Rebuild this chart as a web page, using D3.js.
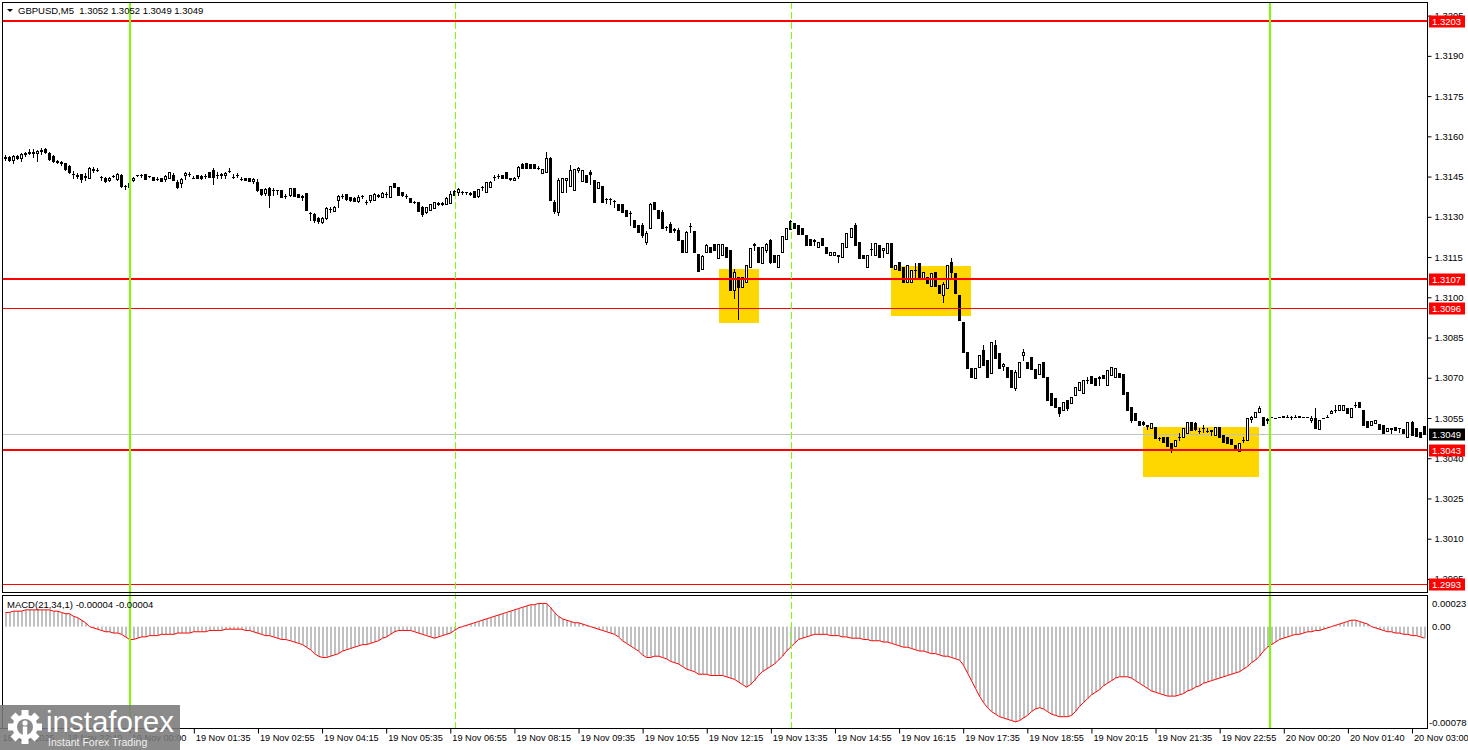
<!DOCTYPE html>
<html>
<head>
<meta charset="utf-8">
<title>GBPUSD M5</title>
<script src="https://cdn.jsdelivr.net/npm/d3@7"></script>
<style>
body { margin: 0; background: #fff; }
text { font-family: "Liberation Sans", Arial, sans-serif; }
</style>
</head>
<body>
<script>
// GBPUSD M5 candles, MACD(21,34,1) panel underneath

var opens = [
1.31519,1.31523,1.31512,1.31527,1.31519,1.31534,1.31538,1.31541,1.31538,1.31545,
1.31552,1.31538,1.31527,1.31508,1.31504,1.31500,1.31489,1.31459,1.31456,1.31459,
1.31448,1.31444,1.31474,1.31474,1.31448,1.31444,1.31437,1.31452,1.31441,1.31456,
1.31415,1.31411,1.31437,1.31456,1.31456,1.31459,1.31452,1.31448,1.31441,1.31444,
1.31441,1.31444,1.31456,1.31430,1.31426,1.31456,1.31459,1.31444,1.31456,1.31452,
1.31452,1.31467,1.31474,1.31456,1.31456,1.31456,1.31471,1.31448,1.31456,1.31441,
1.31444,1.31444,1.31433,1.31430,1.31403,1.31389,1.31407,1.31400,1.31400,1.31400,
1.31377,1.31381,1.31407,1.31385,1.31374,1.31389,1.31314,1.31310,1.31295,1.31280,
1.31295,1.31329,1.31321,1.31362,1.31377,1.31385,1.31374,1.31370,1.31359,1.31377,
1.31355,1.31362,1.31362,1.31377,1.31374,1.31385,1.31374,1.31426,1.31411,1.31392,
1.31377,1.31370,1.31355,1.31355,1.31336,1.31318,1.31325,1.31333,1.31351,1.31347,
1.31347,1.31351,1.31396,1.31392,1.31392,1.31392,1.31389,1.31396,1.31377,1.31411,
1.31392,1.31411,1.31448,1.31452,1.31456,1.31467,1.31441,1.31437,1.31452,1.31497,
1.31500,1.31497,1.31497,1.31482,1.31463,1.31467,1.31519,1.31355,1.31318,1.31392,
1.31437,1.31415,1.31400,1.31474,1.31433,1.31456,1.31467,1.31437,1.31407,1.31415,
1.31366,1.31366,1.31359,1.31347,1.31347,1.31325,1.31314,1.31288,1.31269,1.31269,
1.31206,1.31258,1.31355,1.31325,1.31318,1.31262,1.31273,1.31254,1.31250,1.31213,
1.31168,1.31265,1.31247,1.31161,1.31105,1.31168,1.31187,1.31198,1.31146,1.31157,
1.31187,1.31176,1.31027,1.31075,1.31038,1.31056,1.31112,1.31194,1.31187,1.31127,
1.31176,1.31213,1.31157,1.31112,1.31168,1.31217,1.31284,1.31277,1.31269,1.31258,
1.31232,1.31217,1.31209,1.31187,1.31221,1.31187,1.31157,1.31157,1.31153,1.31150,
1.31187,1.31224,1.31269,1.31206,1.31157,1.31112,1.31179,1.31157,1.31194,1.31176,
1.31165,1.31202,1.31105,1.31131,1.31112,1.31056,1.31056,1.31101,1.31127,1.31071,
1.31075,1.31042,1.31094,1.31045,1.31008,1.31034,1.31131,1.31090,1.31008,1.30907,
1.30795,1.30736,1.30698,1.30739,1.30803,1.30766,1.30717,1.30822,1.30792,1.30743,
1.30739,1.30728,1.30661,1.30702,1.30784,1.30758,1.30777,1.30732,1.30713,1.30758,
1.30702,1.30643,1.30624,1.30591,1.30579,1.30616,1.30606,1.30635,1.30654,1.30643,
1.30691,1.30706,1.30698,1.30698,1.30710,1.30672,1.30710,1.30702,1.30717,1.30713,
1.30646,1.30591,1.30568,1.30538,1.30535,1.30520,1.30512,1.30516,1.30475,1.30479,
1.30479,1.30456,1.30445,1.30479,1.30479,1.30494,1.30535,1.30531,1.30501,1.30512,
1.30501,1.30501,1.30486,1.30516,1.30486,1.30479,1.30471,1.30449,1.30426,1.30467,
1.30467,1.30546,1.30553,1.30572,1.30553,1.30542,1.30553,1.30550,1.30553,1.30553,
1.30553,1.30553,1.30553,1.30553,1.30553,1.30553,1.30542,1.30550,1.30509,1.30550,
1.30553,1.30568,1.30579,1.30579,1.30579,1.30587,1.30553,1.30598,1.30609,1.30579,
1.30538,1.30524,1.30531,1.30527,1.30524,1.30501,1.30509,1.30516,1.30512,1.30509,
1.30479,1.30535,1.30512,1.30497,1.30520
];

var highs = [
1.31530,1.31527,1.31530,1.31530,1.31538,1.31541,1.31552,1.31552,1.31549,1.31556,
1.31556,1.31541,1.31530,1.31512,1.31508,1.31500,1.31493,1.31471,1.31463,1.31459,
1.31463,1.31485,1.31485,1.31482,1.31452,1.31448,1.31448,1.31456,1.31463,1.31459,
1.31418,1.31430,1.31448,1.31456,1.31459,1.31459,1.31452,1.31448,1.31448,1.31444,
1.31456,1.31467,1.31463,1.31437,1.31444,1.31467,1.31467,1.31452,1.31456,1.31456,
1.31459,1.31467,1.31482,1.31467,1.31463,1.31467,1.31482,1.31459,1.31463,1.31448,
1.31444,1.31444,1.31444,1.31441,1.31403,1.31407,1.31411,1.31407,1.31400,1.31400,
1.31385,1.31407,1.31407,1.31385,1.31381,1.31389,1.31318,1.31314,1.31299,1.31299,
1.31336,1.31336,1.31340,1.31381,1.31385,1.31385,1.31374,1.31374,1.31381,1.31381,
1.31362,1.31381,1.31389,1.31385,1.31392,1.31392,1.31415,1.31426,1.31411,1.31392,
1.31385,1.31370,1.31359,1.31355,1.31340,1.31336,1.31347,1.31355,1.31355,1.31355,
1.31374,1.31396,1.31400,1.31407,1.31396,1.31392,1.31392,1.31396,1.31403,1.31415,
1.31430,1.31433,1.31456,1.31459,1.31456,1.31467,1.31444,1.31448,1.31489,1.31500,
1.31500,1.31497,1.31497,1.31489,1.31478,1.31541,1.31523,1.31362,1.31444,1.31444,
1.31444,1.31493,1.31478,1.31485,1.31474,1.31456,1.31474,1.31437,1.31430,1.31415,
1.31370,1.31370,1.31362,1.31347,1.31347,1.31325,1.31321,1.31288,1.31269,1.31277,
1.31247,1.31351,1.31355,1.31325,1.31325,1.31265,1.31280,1.31258,1.31258,1.31213,
1.31247,1.31277,1.31247,1.31161,1.31157,1.31198,1.31187,1.31198,1.31198,1.31198,
1.31187,1.31176,1.31105,1.31075,1.31075,1.31120,1.31183,1.31202,1.31187,1.31187,
1.31202,1.31217,1.31157,1.31157,1.31228,1.31258,1.31288,1.31277,1.31269,1.31258,
1.31232,1.31217,1.31217,1.31206,1.31221,1.31187,1.31168,1.31168,1.31157,1.31202,
1.31239,1.31258,1.31277,1.31206,1.31157,1.31157,1.31202,1.31202,1.31194,1.31183,
1.31202,1.31202,1.31120,1.31131,1.31112,1.31120,1.31101,1.31127,1.31127,1.31094,
1.31075,1.31090,1.31094,1.31045,1.31056,1.31120,1.31146,1.31090,1.31008,1.30907,
1.30795,1.30736,1.30736,1.30784,1.30822,1.30766,1.30833,1.30840,1.30792,1.30754,
1.30739,1.30728,1.30728,1.30758,1.30807,1.30758,1.30777,1.30732,1.30751,1.30758,
1.30702,1.30643,1.30624,1.30591,1.30609,1.30616,1.30628,1.30665,1.30684,1.30691,
1.30702,1.30706,1.30698,1.30706,1.30710,1.30728,1.30739,1.30736,1.30717,1.30713,
1.30646,1.30591,1.30568,1.30538,1.30538,1.30524,1.30531,1.30516,1.30479,1.30479,
1.30479,1.30456,1.30467,1.30494,1.30512,1.30535,1.30535,1.30535,1.30512,1.30524,
1.30512,1.30505,1.30516,1.30516,1.30486,1.30479,1.30471,1.30449,1.30456,1.30479,
1.30550,1.30557,1.30572,1.30594,1.30553,1.30550,1.30553,1.30550,1.30553,1.30557,
1.30561,1.30557,1.30561,1.30557,1.30553,1.30553,1.30557,1.30587,1.30542,1.30550,
1.30561,1.30579,1.30598,1.30598,1.30598,1.30587,1.30587,1.30609,1.30609,1.30579,
1.30538,1.30538,1.30542,1.30527,1.30524,1.30512,1.30512,1.30516,1.30512,1.30509,
1.30535,1.30538,1.30512,1.30497,1.30520
];

var lows = [
1.31512,1.31508,1.31500,1.31515,1.31508,1.31527,1.31534,1.31523,1.31508,1.31534,
1.31538,1.31512,1.31504,1.31500,1.31493,1.31474,1.31463,1.31444,1.31444,1.31430,
1.31437,1.31444,1.31467,1.31471,1.31437,1.31430,1.31433,1.31448,1.31437,1.31411,
1.31403,1.31411,1.31433,1.31452,1.31448,1.31441,1.31448,1.31437,1.31437,1.31433,
1.31433,1.31444,1.31437,1.31407,1.31411,1.31441,1.31452,1.31444,1.31444,1.31441,
1.31444,1.31448,1.31422,1.31444,1.31444,1.31444,1.31467,1.31444,1.31448,1.31437,
1.31437,1.31433,1.31426,1.31396,1.31381,1.31381,1.31336,1.31381,1.31385,1.31374,
1.31370,1.31377,1.31377,1.31374,1.31362,1.31325,1.31288,1.31280,1.31277,1.31277,
1.31291,1.31318,1.31321,1.31336,1.31370,1.31362,1.31359,1.31359,1.31355,1.31370,
1.31347,1.31355,1.31362,1.31374,1.31374,1.31374,1.31374,1.31411,1.31381,1.31377,
1.31370,1.31355,1.31351,1.31321,1.31303,1.31314,1.31325,1.31333,1.31344,1.31344,
1.31347,1.31351,1.31381,1.31381,1.31385,1.31385,1.31381,1.31374,1.31374,1.31400,
1.31392,1.31411,1.31437,1.31444,1.31444,1.31444,1.31437,1.31437,1.31444,1.31482,
1.31482,1.31482,1.31482,1.31478,1.31463,1.31467,1.31362,1.31314,1.31306,1.31392,
1.31392,1.31415,1.31400,1.31467,1.31433,1.31430,1.31422,1.31355,1.31407,1.31355,
1.31351,1.31347,1.31336,1.31325,1.31318,1.31303,1.31269,1.31262,1.31243,1.31224,
1.31198,1.31258,1.31329,1.31295,1.31258,1.31250,1.31243,1.31243,1.31213,1.31168,
1.31168,1.31243,1.31168,1.31097,1.31105,1.31168,1.31168,1.31176,1.31146,1.31157,
1.31150,1.31027,1.30997,1.30918,1.31038,1.31056,1.31112,1.31176,1.31131,1.31127,
1.31168,1.31127,1.31131,1.31112,1.31168,1.31217,1.31254,1.31258,1.31235,1.31235,
1.31194,1.31194,1.31194,1.31187,1.31194,1.31165,1.31157,1.31157,1.31131,1.31150,
1.31187,1.31224,1.31194,1.31146,1.31146,1.31112,1.31157,1.31157,1.31150,1.31150,
1.31165,1.31112,1.31105,1.31101,1.31056,1.31056,1.31056,1.31071,1.31075,1.31071,
1.31053,1.31042,1.31042,1.31015,1.30982,1.31034,1.31075,1.31015,1.30915,1.30795,
1.30736,1.30702,1.30698,1.30739,1.30747,1.30702,1.30717,1.30773,1.30736,1.30728,
1.30702,1.30665,1.30654,1.30702,1.30766,1.30736,1.30732,1.30698,1.30713,1.30702,
1.30616,1.30598,1.30591,1.30557,1.30579,1.30579,1.30606,1.30635,1.30654,1.30643,
1.30680,1.30680,1.30672,1.30672,1.30698,1.30672,1.30710,1.30702,1.30702,1.30639,
1.30579,1.30535,1.30542,1.30524,1.30524,1.30509,1.30512,1.30475,1.30467,1.30460,
1.30445,1.30423,1.30445,1.30467,1.30479,1.30494,1.30505,1.30505,1.30494,1.30497,
1.30497,1.30486,1.30486,1.30479,1.30460,1.30456,1.30452,1.30430,1.30426,1.30460,
1.30467,1.30535,1.30553,1.30572,1.30524,1.30531,1.30553,1.30550,1.30553,1.30553,
1.30553,1.30546,1.30553,1.30553,1.30553,1.30553,1.30535,1.30512,1.30509,1.30550,
1.30553,1.30568,1.30572,1.30579,1.30579,1.30568,1.30553,1.30591,1.30591,1.30524,
1.30516,1.30524,1.30531,1.30509,1.30494,1.30501,1.30494,1.30505,1.30497,1.30494,
1.30479,1.30486,1.30482,1.30479,1.30490
];

var closes = [
1.31523,1.31512,1.31527,1.31519,1.31534,1.31538,1.31541,1.31538,1.31545,1.31549,
1.31541,1.31515,1.31508,1.31504,1.31500,1.31478,1.31467,1.31459,1.31452,1.31441,
1.31452,1.31482,1.31478,1.31474,1.31448,1.31433,1.31444,1.31452,1.31459,1.31415,
1.31415,1.31426,1.31444,1.31456,1.31456,1.31441,1.31452,1.31437,1.31441,1.31433,
1.31452,1.31467,1.31437,1.31411,1.31441,1.31463,1.31459,1.31444,1.31444,1.31444,
1.31452,1.31448,1.31448,1.31456,1.31459,1.31463,1.31471,1.31448,1.31456,1.31441,
1.31437,1.31433,1.31441,1.31400,1.31385,1.31403,1.31381,1.31400,1.31400,1.31374,
1.31377,1.31407,1.31377,1.31374,1.31377,1.31325,1.31314,1.31288,1.31284,1.31295,
1.31333,1.31329,1.31336,1.31377,1.31377,1.31366,1.31362,1.31359,1.31374,1.31377,
1.31355,1.31381,1.31385,1.31381,1.31389,1.31385,1.31415,1.31411,1.31381,1.31381,
1.31377,1.31355,1.31355,1.31321,1.31310,1.31336,1.31347,1.31355,1.31347,1.31351,
1.31370,1.31385,1.31381,1.31403,1.31392,1.31392,1.31385,1.31374,1.31403,1.31411,
1.31430,1.31430,1.31448,1.31452,1.31444,1.31444,1.31444,1.31444,1.31485,1.31482,
1.31482,1.31482,1.31482,1.31482,1.31478,1.31519,1.31362,1.31321,1.31437,1.31444,
1.31444,1.31474,1.31478,1.31482,1.31474,1.31430,1.31459,1.31355,1.31430,1.31355,
1.31366,1.31366,1.31359,1.31325,1.31318,1.31303,1.31314,1.31262,1.31243,1.31232,
1.31239,1.31347,1.31329,1.31295,1.31258,1.31262,1.31243,1.31250,1.31213,1.31168,
1.31243,1.31265,1.31168,1.31097,1.31153,1.31194,1.31168,1.31176,1.31198,1.31198,
1.31150,1.31027,1.31094,1.31038,1.31075,1.31120,1.31183,1.31198,1.31131,1.31187,
1.31198,1.31131,1.31131,1.31157,1.31228,1.31258,1.31254,1.31258,1.31235,1.31235,
1.31194,1.31194,1.31213,1.31206,1.31194,1.31165,1.31168,1.31168,1.31157,1.31202,
1.31239,1.31258,1.31194,1.31146,1.31146,1.31157,1.31179,1.31202,1.31150,1.31183,
1.31202,1.31112,1.31120,1.31101,1.31056,1.31120,1.31101,1.31101,1.31075,1.31094,
1.31053,1.31090,1.31042,1.31015,1.31049,1.31120,1.31094,1.31015,1.30915,1.30795,
1.30736,1.30702,1.30736,1.30784,1.30747,1.30702,1.30833,1.30773,1.30736,1.30751,
1.30702,1.30665,1.30721,1.30758,1.30795,1.30736,1.30732,1.30698,1.30751,1.30702,
1.30616,1.30598,1.30591,1.30568,1.30609,1.30587,1.30628,1.30665,1.30684,1.30691,
1.30691,1.30680,1.30672,1.30702,1.30698,1.30728,1.30739,1.30736,1.30702,1.30639,
1.30579,1.30542,1.30542,1.30524,1.30527,1.30524,1.30531,1.30475,1.30475,1.30460,
1.30445,1.30430,1.30467,1.30479,1.30512,1.30535,1.30505,1.30509,1.30501,1.30512,
1.30501,1.30505,1.30516,1.30479,1.30460,1.30456,1.30452,1.30430,1.30456,1.30467,
1.30550,1.30553,1.30572,1.30587,1.30524,1.30546,1.30553,1.30550,1.30553,1.30557,
1.30553,1.30553,1.30553,1.30557,1.30553,1.30553,1.30550,1.30512,1.30542,1.30550,
1.30553,1.30576,1.30579,1.30598,1.30598,1.30568,1.30587,1.30598,1.30591,1.30524,
1.30516,1.30538,1.30542,1.30509,1.30494,1.30512,1.30512,1.30505,1.30512,1.30494,
1.30535,1.30486,1.30482,1.30479,1.30490
];

// MACD main value per bar (signal period 1, so the red line sits on it)
var macd = [
11e-5,11e-5,12e-5,12e-5,12e-5,13e-5,13e-5,13e-5,13e-5,13e-5,
13e-5,13e-5,12e-5,12e-5,11e-5,10e-5,10e-5,8e-5,7e-5,5e-5,
3e-5,0,-1e-5,-2e-5,-3e-5,-4e-5,-4e-5,-5e-5,-5e-5,-6e-5,
-8e-5,-10e-5,-10e-5,-9e-5,-8e-5,-8e-5,-7e-5,-7e-5,-7e-5,-6e-5,
-6e-5,-6e-5,-6e-5,-5e-5,-5e-5,-5e-5,-5e-5,-4e-5,-4e-5,-4e-5,
-4e-5,-3e-5,-3e-5,-3e-5,-3e-5,-2e-5,-2e-5,-2e-5,-2e-5,-2e-5,
-3e-5,-3e-5,-4e-5,-5e-5,-6e-5,-7e-5,-7e-5,-8e-5,-9e-5,-10e-5,
-10e-5,-11e-5,-12e-5,-13e-5,-14e-5,-16e-5,-18e-5,-21e-5,-23e-5,-24e-5,
-24e-5,-23e-5,-22e-5,-21e-5,-19e-5,-18e-5,-17e-5,-16e-5,-15e-5,-14e-5,
-14e-5,-13e-5,-12e-5,-11e-5,-9e-5,-8e-5,-6e-5,-4e-5,-3e-5,-3e-5,
-3e-5,-3e-5,-4e-5,-5e-5,-6e-5,-7e-5,-8e-5,-9e-5,-8e-5,-7e-5,
-6e-5,-5e-5,-3e-5,-1e-5,0,1e-5,2e-5,3e-5,4e-5,5e-5,
6e-5,7e-5,8e-5,9e-5,10e-5,11e-5,12e-5,13e-5,14e-5,15e-5,
16e-5,17e-5,17e-5,18e-5,18e-5,18e-5,15e-5,11e-5,8e-5,6e-5,
5e-5,4e-5,3e-5,3e-5,2e-5,1e-5,0,-1e-5,-2e-5,-3e-5,
-4e-5,-5e-5,-6e-5,-8e-5,-11e-5,-13e-5,-15e-5,-17e-5,-19e-5,-22e-5,
-24e-5,-24e-5,-23e-5,-23e-5,-24e-5,-25e-5,-27e-5,-28e-5,-29e-5,-31e-5,
-33e-5,-34e-5,-35e-5,-37e-5,-37e-5,-37e-5,-38e-5,-38e-5,-38e-5,-38e-5,
-39e-5,-40e-5,-41e-5,-43e-5,-45e-5,-47e-5,-45e-5,-42e-5,-38e-5,-35e-5,
-33e-5,-31e-5,-29e-5,-26e-5,-23e-5,-19e-5,-16e-5,-13e-5,-10e-5,-9e-5,
-8e-5,-7e-5,-6e-5,-6e-5,-6e-5,-6e-5,-7e-5,-7e-5,-7e-5,-8e-5,
-8e-5,-9e-5,-9e-5,-9e-5,-10e-5,-10e-5,-11e-5,-11e-5,-11e-5,-12e-5,
-12e-5,-13e-5,-14e-5,-15e-5,-16e-5,-16e-5,-17e-5,-18e-5,-19e-5,-19e-5,
-20e-5,-21e-5,-21e-5,-22e-5,-23e-5,-23e-5,-24e-5,-25e-5,-26e-5,-30e-5,
-36e-5,-42e-5,-48e-5,-54e-5,-59e-5,-63e-5,-66e-5,-68e-5,-70e-5,-71e-5,
-72e-5,-73e-5,-74e-5,-73e-5,-71e-5,-69e-5,-66e-5,-64e-5,-63e-5,-64e-5,
-66e-5,-68e-5,-69e-5,-70e-5,-70e-5,-70e-5,-69e-5,-66e-5,-62e-5,-59e-5,
-56e-5,-53e-5,-51e-5,-49e-5,-46e-5,-44e-5,-42e-5,-40e-5,-39e-5,-39e-5,
-39e-5,-40e-5,-42e-5,-44e-5,-46e-5,-48e-5,-50e-5,-51e-5,-52e-5,-53e-5,
-54e-5,-54e-5,-54e-5,-53e-5,-52e-5,-50e-5,-49e-5,-47e-5,-46e-5,-44e-5,
-43e-5,-42e-5,-41e-5,-40e-5,-39e-5,-38e-5,-37e-5,-36e-5,-35e-5,-33e-5,
-31e-5,-28e-5,-26e-5,-23e-5,-19e-5,-16e-5,-14e-5,-12e-5,-10e-5,-9e-5,
-8e-5,-7e-5,-6e-5,-6e-5,-5e-5,-4e-5,-4e-5,-3e-5,-3e-5,-2e-5,
-1e-5,0,1e-5,2e-5,3e-5,4e-5,5e-5,5e-5,4e-5,3e-5,
2e-5,0,-1e-5,-2e-5,-3e-5,-4e-5,-4e-5,-5e-5,-5e-5,-6e-5,
-6e-5,-7e-5,-7e-5,-8e-5,-9e-5
];

var priceTicks = [1.2995, 1.3010, 1.3025, 1.3040, 1.3055, 1.3070, 1.3085, 1.3100,
                  1.3115, 1.3130, 1.3145, 1.3160, 1.3175, 1.3190, 1.3205];
var levels = [1.3203, 1.3107, 1.3096, 1.3043, 1.2993];
var bid = 1.3049;

var timeBars = [0, 15, 31, 47, 63, 79, 95, 111, 127, 143, 159, 175, 191, 207, 223, 239, 255, 271, 287, 303, 319, 335, 351];
var timeLabels = ['18 Nov 2025', '18 Nov 22:40', '19 Nov 00:00', '19 Nov 01:35', '19 Nov 02:55', '19 Nov 04:15',
  '19 Nov 05:35', '19 Nov 06:55', '19 Nov 08:15', '19 Nov 09:35', '19 Nov 10:55', '19 Nov 12:15',
  '19 Nov 13:35', '19 Nov 14:55', '19 Nov 16:15', '19 Nov 17:35', '19 Nov 18:55', '19 Nov 20:15',
  '19 Nov 21:35', '19 Nov 22:55', '20 Nov 00:20', '20 Nov 01:40', '20 Nov 03:00'];

// yellow boxes: bar span and price span
var zoneFrom = [178.2, 221.1, 284.0];
var zoneTo = [188.2, 241.1, 312.9];
var zoneHigh = [1.31105, 1.31116, 1.30516];
var zoneLow = [1.30904, 1.30930, 1.30329];

var solidLines = [31.2, 315.7];
var dashedLines = [112.4, 196.2];

var macdTicks = [0.00023, 0, -0.00078];
var macdTickLabels = ['0.00023', '0.00', '-0.00078'];

var width = 1468, height = 750;
var left = 2, right = 1427, mainTop = 2, mainBottom = 592, subTop = 595, subBottom = 728;

var x = d3.scaleLinear().domain([0, 351]).range([5, 1411.5]);
var y = d3.scaleLinear().domain([1.2993, 1.3203]).range([584.3, 21]);
var ym = d3.scaleLinear().domain([-0.00078, 0.00023]).range([727, 597]);

function cx(i) { return Math.round(x(i)); }
function ry(v) { return Math.round(y(v)); }

var svg = d3.select('body').append('svg')
    .attr('width', width)
    .attr('height', height);

svg.append('rect').attr('width', width).attr('height', height).attr('fill', '#fff');

var bars = closes.map(function(c, i) {
    return {i: i, o: opens[i], h: highs[i], l: lows[i], c: c, m: macd[i]};
});

// ---- main panel ----
var main = svg.append('g');

main.selectAll('.zone')
    .data(zoneFrom)
    .enter().append('rect')
    .attr('class', 'zone')
    .attr('x', function(d) { return Math.round(x(d)); })
    .attr('width', function(d, k) { return Math.round(x(zoneTo[k])) - Math.round(x(d)); })
    .attr('y', function(d, k) { return ry(zoneHigh[k]); })
    .attr('height', function(d, k) { return ry(zoneLow[k]) - ry(zoneHigh[k]); })
    .attr('fill', '#FFD700');

main.append('line')
    .attr('x1', left).attr('x2', right)
    .attr('y1', ry(bid) + 0.5).attr('y2', ry(bid) + 0.5)
    .attr('stroke', '#C0C0C0');

var candles = main.append('g');

candles.selectAll('.wick')
    .data(bars)
    .enter().append('line')
    .attr('x1', function(d) { return cx(d.i) + 0.5; })
    .attr('x2', function(d) { return cx(d.i) + 0.5; })
    .attr('y1', function(d) { return ry(Math.max(d.h, d.o, d.c)); })
    .attr('y2', function(d) { return ry(Math.min(d.l, d.o, d.c)) + 1; })
    .attr('stroke', '#000')
    .attr('stroke-width', 1);

candles.selectAll('.down')
    .data(bars.filter(function(d) { return d.c <= d.o; }))
    .enter().append('rect')
    .attr('x', function(d) { return cx(d.i) - 1; })
    .attr('y', function(d) { return ry(d.o); })
    .attr('width', 3)
    .attr('height', function(d) { return Math.max(1, ry(d.c) - ry(d.o) + 1); })
    .attr('fill', '#000');

candles.selectAll('.up')
    .data(bars.filter(function(d) { return d.c > d.o; }))
    .enter().append('rect')
    .attr('x', function(d) { return cx(d.i) - 0.5; })
    .attr('y', function(d) { return ry(d.c) + 0.5; })
    .attr('width', 2)
    .attr('height', function(d) { return Math.max(1, ry(d.o) - ry(d.c)); })
    .attr('fill', '#fff')
    .attr('stroke', '#000')
    .attr('stroke-width', 1);

// horizontal levels
function thin(d) { return d === 1.3096 || d === 1.2993; }
main.selectAll('.level')
    .data(levels)
    .enter().append('line')
    .attr('x1', left).attr('x2', right)
    .attr('y1', function(d) { return thin(d) ? ry(d) + 0.5 : ry(d); })
    .attr('y2', function(d) { return thin(d) ? ry(d) + 0.5 : ry(d); })
    .attr('stroke', '#FF0000')
    .attr('stroke-width', function(d) { return thin(d) ? 1 : 2; });

// ---- MACD panel ----
var sub = svg.append('g');

sub.selectAll('.hist')
    .data(bars)
    .enter().append('rect')
    .attr('x', function(d) { return cx(d.i); })
    .attr('width', 2)
    .attr('y', function(d) { return Math.min(ym(0), ym(d.m)); })
    .attr('height', function(d) { return Math.abs(ym(d.m) - ym(0)); })
    .attr('fill', '#C0C0C0');

sub.append('path')
    .datum(bars)
    .attr('fill', 'none')
    .attr('stroke', '#FF0000')
    .attr('stroke-width', 1)
    .attr('d', d3.line()
        .x(function(d) { return cx(d.i) + 0.5; })
        .y(function(d) { return ym(d.m); }));

// vertical lines across both panels
svg.selectAll('.vsolid')
    .data(solidLines)
    .enter().append('line')
    .attr('x1', function(d) { return Math.round(x(d)); })
    .attr('x2', function(d) { return Math.round(x(d)); })
    .attr('y1', mainTop).attr('y2', subBottom)
    .attr('stroke', '#7CFC00')
    .attr('stroke-width', 2);

svg.selectAll('.vdash')
    .data(dashedLines)
    .enter().append('line')
    .attr('x1', function(d) { return Math.round(x(d)) + 0.5; })
    .attr('x2', function(d) { return Math.round(x(d)) + 0.5; })
    .attr('y1', mainTop).attr('y2', subBottom)
    .attr('stroke', '#7CFC00')
    .attr('stroke-width', 1)
    .attr('stroke-dasharray', '7,3');

// panel frames
svg.append('rect')
    .attr('x', left + 0.5).attr('y', mainTop + 0.5)
    .attr('width', right - left).attr('height', mainBottom - mainTop)
    .attr('fill', 'none').attr('stroke', '#000');
svg.append('rect')
    .attr('x', left + 0.5).attr('y', subTop + 0.5)
    .attr('width', right - left).attr('height', subBottom - subTop)
    .attr('fill', 'none').attr('stroke', '#000');

// ---- price axis ----
var yAxis = d3.axisRight(y)
    .tickValues(priceTicks)
    .tickFormat(d3.format('.4f'))
    .tickSize(4)
    .tickPadding(3);

var ya = svg.append('g')
    .attr('transform', 'translate(' + (right + 0.5) + ',0)')
    .call(yAxis);
ya.select('.domain').remove();
ya.selectAll('line').attr('stroke', '#000');
ya.selectAll('text').attr('font-size', '9.5px').attr('fill', '#000')
    .attr('font-family', '"Liberation Sans", Arial, sans-serif');

var tags = svg.append('g');
tags.selectAll('rect')
    .data(levels)
    .enter().append('rect')
    .attr('x', right + 2)
    .attr('y', function(d) { return ry(d) - 5.5; })
    .attr('width', 36)
    .attr('height', 12)
    .attr('fill', '#FF0000');
tags.selectAll('text')
    .data(levels)
    .enter().append('text')
    .attr('x', right + 5)
    .attr('y', function(d) { return ry(d) + 4; })
    .attr('font-size', '9.5px')
    .attr('fill', '#fff')
    .text(function(d) { return d3.format('.4f')(d); });

svg.append('rect')
    .attr('x', right + 2).attr('y', ry(bid) - 5.5)
    .attr('width', 36).attr('height', 12)
    .attr('fill', '#000');
svg.append('text')
    .attr('x', right + 5).attr('y', ry(bid) + 4)
    .attr('font-size', '9.5px').attr('fill', '#fff')
    .text(d3.format('.4f')(bid));

// MACD scale labels (top and bottom ones sit inside the panel)
svg.selectAll('.mlabel')
    .data(macdTicks)
    .enter().append('text')
    .attr('x', function(d, k) { return k === 2 ? right + 2 : right + 5; })
    .attr('y', function(d, k) { return ym(d) + (k === 0 ? 10 : (k === 2 ? -1 : 3.5)); })
    .attr('font-size', '9.5px')
    .attr('fill', '#000')
    .text(function(d, k) { return macdTickLabels[k]; });

// ---- time axis ----
var xAxis = d3.axisBottom(x)
    .tickValues(timeBars)
    .tickFormat(function(d, k) { return timeLabels[k]; })
    .tickSize(5)
    .tickPadding(1);

var xa = svg.append('g')
    .attr('transform', 'translate(0,' + (subBottom + 0.5) + ')')
    .call(xAxis);
xa.select('.domain').remove();
xa.selectAll('line').attr('stroke', '#000')
    .attr('transform', 'translate(0.5,0)');
xa.selectAll('text')
    .attr('text-anchor', 'start')
    .attr('dx', function(d, k) { return k === 0 ? -3 : 2; })
    .attr('font-size', '9.2px')
    .attr('fill', '#000')
    .attr('font-family', '"Liberation Sans", Arial, sans-serif');
xa.selectAll('.tick').filter(function(d, k) { return k === 0; }).select('line').remove();

svg.append('line')
    .attr('x1', 0).attr('x2', right + 1)
    .attr('y1', subBottom + 0.5).attr('y2', subBottom + 0.5)
    .attr('stroke', '#000');

// ---- headers ----
svg.append('path').attr('d', 'M7,9L13,9L10,12Z').attr('fill', '#000');
svg.append('text')
    .attr('x', 18).attr('y', 14)
    .attr('font-size', '9.5px').attr('fill', '#000')
    .attr('xml:space', 'preserve')
    .text('GBPUSD,M5  1.3052 1.3052 1.3049 1.3049');
svg.append('text')
    .attr('x', 7).attr('y', 608)
    .attr('font-size', '9.5px').attr('fill', '#000')
    .text('MACD(21,34,1) -0.00004 -0.00004');

// ---- watermark ----
var wm = svg.append('g');
wm.append('rect')
    .attr('x', 0).attr('y', 705).attr('width', 180).attr('height', 45)
    .attr('fill', '#7a7a7a').attr('opacity', 0.88);
var gear = wm.append('g').attr('transform', 'translate(25,727)');
gear.selectAll('rect')
    .data(d3.range(8))
    .enter().append('rect')
    .attr('x', -3.5).attr('y', -17).attr('width', 7).attr('height', 7)
    .attr('fill', '#fff')
    .attr('transform', function(d) { return 'rotate(' + (d * 45) + ')'; });
gear.append('circle').attr('r', 12.5).attr('fill', '#fff');
gear.append('circle').attr('r', 8).attr('fill', '#8a8a8a');
gear.append('circle').attr('cx', 0).attr('cy', -4).attr('r', 2.6).attr('fill', '#fff');
gear.append('rect').attr('x', -2.2).attr('y', -0.5).attr('width', 4.4).attr('height', 9).attr('fill', '#fff');
wm.append('text')
    .attr('x', 46).attr('y', 732)
    .attr('font-size', '29.5px').attr('fill', '#fff')
    .text('instaforex');
wm.append('text')
    .attr('x', 48).attr('y', 746)
    .attr('font-size', '10.5px').attr('fill', '#f0f0f0')
    .text('Instant Forex Trading');
</script>
</body>
</html>
